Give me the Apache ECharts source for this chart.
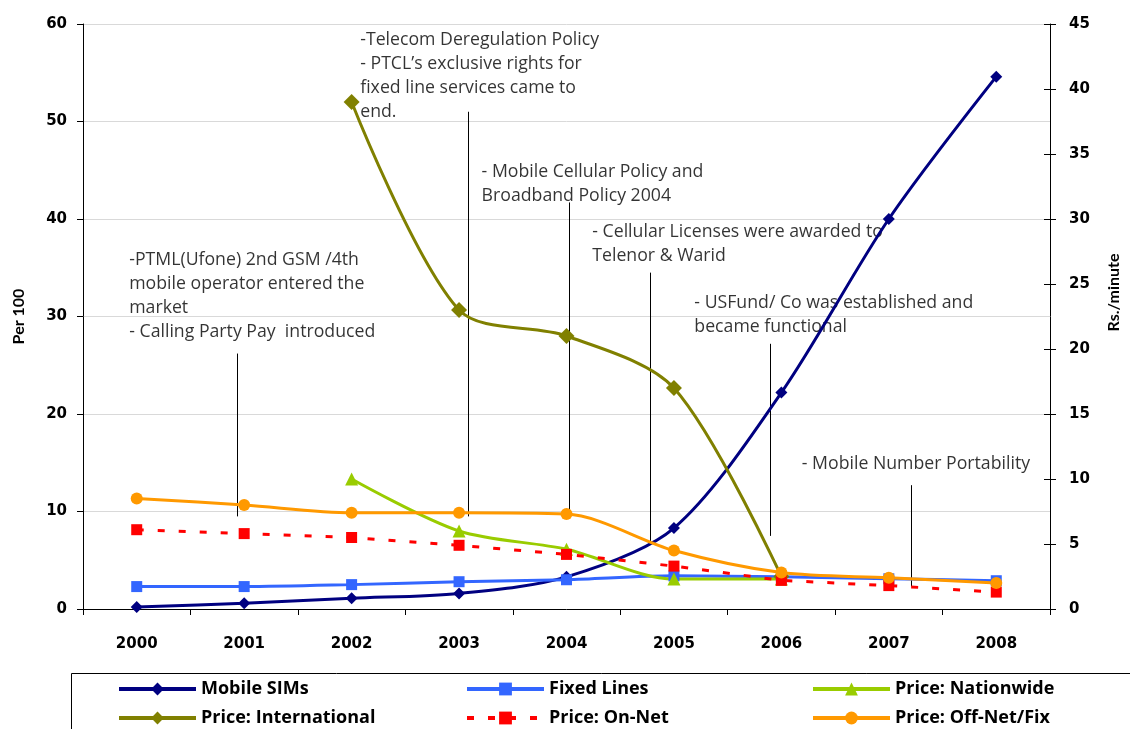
<!DOCTYPE html>
<html>
<head>
<meta charset="utf-8">
<script src="https://cdn.jsdelivr.net/npm/echarts@6/dist/echarts.min.js"></script>
<style>
  html, body { margin: 0; padding: 0; background: #ffffff; }
  #chart { width: 1130px; height: 729px; }
</style>
</head>
<body>
<div id="chart"></div>
<script>
// Years on the category axis
const years = ['2000', '2001', '2002', '2003', '2004', '2005', '2006', '2007', '2008'];

// Teledensity, per 100 inhabitants (left axis)
const mobileSims = [0.2, 0.6, 1.1, 1.6, 3.3, 8.3, 22.2, 40.0, 54.6];
const fixedLines = [2.3, 2.3, 2.5, 2.8, 3.0, 3.4, 3.3, 3.1, 2.9];

// Call prices, Rs./minute (right axis)
const priceNationwide = [null, null, 10.0, 6.0, 4.6, 2.3, 2.3, null, null];
const priceInternational = [null, null, 39.0, 23.0, 21.0, 17.0, 2.5, null, null];
const priceOnNet = [6.1, 5.8, 5.5, 4.9, 4.2, 3.3, 2.2, 1.8, 1.3];
const priceOffNet = [8.5, 8.0, 7.4, 7.4, 7.3, 4.5, 2.8, 2.4, 2.0];

// Axis tick values
const leftTicks = [0, 10, 20, 30, 40, 50, 60];
const rightTicks = [0, 5, 10, 15, 20, 25, 30, 35, 40, 45];

// Policy milestones: text, anchor (year, per-100 value of the text's top-left corner)
const noteTexts = [
  ['-PTML(Ufone) 2nd GSM /4th', 'mobile operator entered the', 'market', '- Calling Party Pay  introduced'],
  ['-Telecom Deregulation Policy', '- PTCL\u2019s exclusive rights for', 'fixed line services came to', 'end.'],
  ['- Mobile Cellular Policy and', 'Broadband Policy 2004'],
  ['- Cellular Licenses were awarded to', 'Telenor & Warid'],
  ['- USFund/ Co was established and', 'became functional'],
  ['- Mobile Number Portability']
];
const noteYear = [1999.93, 2002.08, 2003.21, 2004.24, 2005.19, 2006.19];
const noteTop = [37.0, 59.6, 46.1, 39.9, 32.6, 16.1];

// Callout pointers for each milestone (year, top and bottom in per-100 units)
const calloutYear = [2000.94, 2003.09, 2004.03, 2004.78, 2005.90, 2007.21];
const calloutTop = [26.2, 51.0, 41.7, 34.5, 27.2, 12.7];
const calloutBottom = [9.5, 9.5, 9.6, 6.6, 7.5, 2.3];

const seriesNames = ['Mobile SIMs', 'Fixed Lines', 'Price: Nationwide',
                     'Price: International', 'Price: On-Net', 'Price: Off-Net/Fix'];

const chart = echarts.init(document.getElementById('chart'), null, { renderer: 'canvas' });

const tickFont = { fontFamily: 'DejaVu Sans', fontWeight: 'bold', fontSize: 15, color: '#000' };
const nameFont = { fontFamily: 'Lato', fontWeight: 'bold', fontSize: 16, color: '#000' };

function lineSeries(name, data, color, symbol, size, yIndex, extra) {
  return Object.assign({
    name: name,
    type: 'line',
    data: data,
    yAxisIndex: yIndex,
    xAxisIndex: 0,
    smooth: 0.3,
    symbol: symbol,
    symbolSize: size,
    showAllSymbol: true,
    connectNulls: false,
    lineStyle: { color: color, width: 3 },
    itemStyle: { color: color },
    emphasis: { disabled: true },
    animation: false
  }, extra || {});
}

const legendCols = [117, 465, 811];
const legendRows = [680, 709];

const option = {
  backgroundColor: '#ffffff',
  animation: false,
  grid: { left: 83, right: 74, top: 24, bottom: 120, containLabel: false },
  xAxis: [
    {
      type: 'category',
      data: years,
      boundaryGap: true,
      axisLine: { lineStyle: { color: '#000', width: 1 } },
      axisTick: { show: true, length: 6, lineStyle: { color: '#000' } },
      axisLabel: Object.assign({ margin: 28 }, tickFont),
      splitLine: { show: false }
    },
    {
      // hidden continuous year scale used to place the milestone notes
      type: 'value',
      min: 1999.5,
      max: 2008.5,
      show: false
    }
  ],
  yAxis: [
    {
      type: 'value',
      position: 'left',
      min: leftTicks[0],
      max: leftTicks[leftTicks.length - 1],
      interval: 10,
      name: 'Per 100',
      nameLocation: 'middle',
      nameRotate: 90,
      nameGap: 56,
      nameTextStyle: nameFont,
      axisLine: { show: true, lineStyle: { color: '#000', width: 1 } },
      axisTick: { show: true, length: 6, lineStyle: { color: '#000' } },
      axisLabel: Object.assign({ margin: 16 }, tickFont),
      splitLine: { show: true, lineStyle: { color: '#d9d9d9', width: 1 } }
    },
    {
      type: 'value',
      position: 'right',
      min: rightTicks[0],
      max: rightTicks[rightTicks.length - 1],
      interval: 5,
      name: 'Rs./minute',
      nameLocation: 'middle',
      nameRotate: 90,
      nameGap: 56,
      nameTextStyle: Object.assign({ padding: [0, 0, 0, 48] }, nameFont),
      axisLine: { show: true, lineStyle: { color: '#000', width: 1 } },
      axisTick: { show: true, length: 6, lineStyle: { color: '#000' } },
      axisLabel: Object.assign({ margin: 19 }, tickFont),
      splitLine: { show: false }
    },
    {
      // inner half of the crossing tick marks on the price axis
      type: 'value',
      position: 'right',
      min: rightTicks[0],
      max: rightTicks[rightTicks.length - 1],
      interval: 5,
      axisLine: { show: false },
      axisTick: { show: true, inside: true, length: 6, lineStyle: { color: '#000' } },
      axisLabel: { show: false },
      splitLine: { show: false }
    }
  ],
  legend: seriesNames.map((name, i) => ({
    data: [name],
    left: legendCols[i % 3],
    top: legendRows[Math.floor(i / 3)],
    padding: 0,
    itemWidth: 77,
    itemHeight: 16,
    selectedMode: false,
    lineStyle: { width: 4 },
    textStyle: { fontFamily: 'Open Sans', fontWeight: 'bold', fontSize: 18, color: '#000' }
  })),
  graphic: [
    {
      type: 'rect',
      left: 69,
      top: 671,
      shape: { width: 1100, height: 100 },
      style: { fill: 'none', stroke: '#000', lineWidth: 1 },
      silent: true,
      z: 0
    }
  ],
  series: [
    {
      name: 'callouts',
      type: 'lines',
      coordinateSystem: 'cartesian2d',
      xAxisIndex: 1,
      yAxisIndex: 0,
      data: calloutYear.map((x, i) => ({ coords: [[x, calloutTop[i]], [x, calloutBottom[i]]] })),
      lineStyle: { color: '#000', width: 1, opacity: 1 },
      silent: true,
      z: 1
    },
    {
      name: 'notes',
      type: 'scatter',
      xAxisIndex: 1,
      yAxisIndex: 0,
      data: noteYear.map((x, i) => [x, noteTop[i]]),
      symbolSize: 0,
      silent: true,
      z: 1,
      label: {
        show: true,
        position: [0, 0],
        align: 'left',
        verticalAlign: 'top',
        fontFamily: 'Open Sans',
        fontSize: 17.7,
        lineHeight: 24,
        color: '#000',
        formatter: p => noteTexts[p.dataIndex].join('\n')
      }
    },
    lineSeries(seriesNames[0], mobileSims, '#000080', 'diamond', 12, 0),
    lineSeries(seriesNames[1], fixedLines, '#3366ff', 'rect', 11, 0),
    lineSeries(seriesNames[2], priceNationwide, '#99cc00', 'triangle', 13, 1),
    lineSeries(seriesNames[3], priceInternational, '#808000', 'diamond', 16, 1),
    lineSeries(seriesNames[4], priceOnNet, '#ff0000', 'rect', 11, 1, {
      smooth: false,
      lineStyle: { color: '#ff0000', width: 3, type: [7, 14] }
    }),
    lineSeries(seriesNames[5], priceOffNet, '#ff9900', 'circle', 12, 1)
  ]
};

chart.setOption(option);
</script>
</body>
</html>
